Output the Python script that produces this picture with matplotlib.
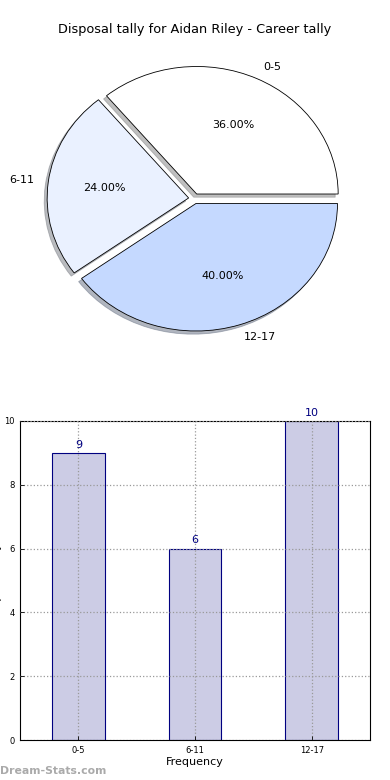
import matplotlib
matplotlib.use("Agg")
import matplotlib.pyplot as plt

categories = ["0-5", "6-11", "12-17"]
counts = [9, 6, 10]
pie_colors = ["#FFFFFF", "#EAF1FF", "#C5D9FF"]
yticks = [0, 2, 4, 6, 8, 10]
title = "Disposal tally for Aidan Riley - Career tally"

fig = plt.figure(figsize=(3.9, 7.8), dpi=100)

# Pie
axp = fig.add_axes([0.0446, 0.541, 0.907, 0.4087])
wedges, texts, autotexts = axp.pie(
    counts, labels=categories, colors=pie_colors, explode=[0.04, 0.04, 0.04],
    autopct="%1.2f%%",
    shadow=dict(ox=-0.015, oy=-0.018, shade=0.5),
    startangle=0, counterclock=True,
    wedgeprops=dict(edgecolor="black", linewidth=0.6),
    textprops=dict(fontsize=8))
axp.set_aspect("auto")
axp.set_xlim(-1.25, 1.25)
axp.set_ylim(-1.25, 1.25)
fig.text(0.5, 1 - 30 / 780, title, ha="center", va="center", fontsize=9.3)

# Bar
axb = fig.add_axes([20 / 390, 40 / 780, 350 / 390, 319 / 780])
x = list(range(len(categories)))
bars = axb.bar(x, counts, width=0.45, color="#CCCCE5", edgecolor="#000080",
               linewidth=0.8, zorder=1)
for xi, v in zip(x, counts):
    axb.text(xi, v + 0.1, str(v), ha="center", va="bottom", color="#000080",
             fontsize=8)
axb.set_xlim(-0.5, 2.5)
axb.set_ylim(0, 10)
axb.set_xticks(x)
axb.set_xticklabels(categories, fontsize=6)
axb.set_yticks(yticks)
axb.set_yticklabels([str(t) for t in yticks], fontsize=6)
axb.tick_params(direction="in", length=3, width=0.6, pad=4)
axb.set_axisbelow(False)
axb.grid(True, linestyle=":", color="#999999", linewidth=0.9, zorder=3)
axb.set_xlabel("Frequency", fontsize=8, labelpad=2)
for s in axb.spines.values():
    s.set_linewidth(0.8)

fig.text(2 / 390, 1 - 580 / 780, "Disposal Tally", rotation=90, ha="right",
         va="center", fontsize=8)

fig.text(0.0, 1 - 771 / 780, "Dream-Stats.com", ha="left", va="center",
         fontsize=7.8, color="#aaaaaa", fontweight="bold")

fig.savefig("out.png", dpi=100)
